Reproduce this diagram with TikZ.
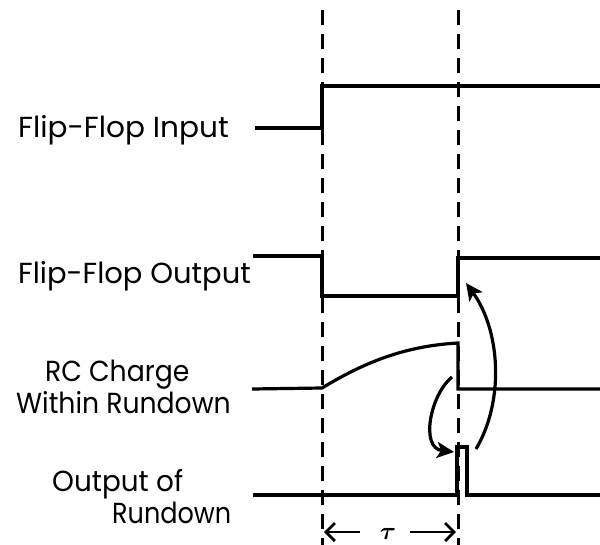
\documentclass[tikz,border=0pt]{standalone}
\usepackage{fontspec}
\setmainfont{Poppins}
\usetikzlibrary{arrows.meta}
\begin{document}
\begin{tikzpicture}[x=1pt,y=-1pt,
  sig/.style={line width=3.2pt, line join=miter},
  guide/.style={line width=3pt, dash pattern=on 15pt off 9pt},
  lbl/.style={font=\fontsize{29}{34}\selectfont, inner sep=0pt, anchor=base west},
  curv/.style={line width=3.2pt, -{Stealth[length=17pt,width=16pt,inset=4pt]}},
  dim/.style={line width=2.8pt}]
\useasboundingbox (0,0) rectangle (600,544);
% guides
\coordinate (g1t) at (322,10); \coordinate (g1b) at (322,546);
\coordinate (g2t) at (458,10); \coordinate (g2b) at (458,546);
\draw[guide] (g1t) -- (g1b);
\draw[guide] (g2t) -- (g2b);
% labels
\node[lbl, xscale=1.02] (l1) at (18,137) {Flip-Flop Input};
\node[lbl] (l2) at (18,283) {Flip-Flop Output};
\node[lbl, xscale=0.92] (l3a) at (45,381) {RC Charge};
\node[lbl, xscale=0.92] (l3b) at (16,413) {Within Rundown};
\node[lbl, xscale=0.96] (l4a) at (52,491) {Output of};
\node[lbl, xscale=0.88] (l4b) at (112,523) {Rundown};
% Flip-flop input
\draw[sig] (255,128) -- (322,128) -- (322,86) -- (600,86);
% Flip-flop output
\coordinate (ffrise) at (458,258);
\draw[sig] (253,256) -- (322,256) -- (322,296) -- (458,296) -- (ffrise) -- (600,258);
% RC charge
\coordinate (rcpeak) at (458,343);
\draw[sig] (252,389) -- (322,388) .. controls (365,362) and (405,346) .. (rcpeak) -- (458,389) -- (600,389);
% Output of rundown
\coordinate (pl) at (457,447); \coordinate (pr) at (467,447);
\draw[sig] (253,495) -- (457,495) -- (pl) -- (pr) -- (467,495) -- (600,495);
% curved arrows
\coordinate (a1s) at (476,449); \coordinate (a1e) at (466,283);
\draw[curv] (a1s) .. controls (505,400) and (500,330) .. (a1e);
\coordinate (a2s) at (452,377); \coordinate (a2e) at (454,452);
\draw[curv] (a2s) .. controls (430,395) and (420,448) .. (a2e);
% tau dimension
\node[font=\fontsize{34}{36}\selectfont\boldmath, inner sep=0pt] (tau) at (388,534) {$\tau$};
\coordinate (d1) at (324,532); \coordinate (d2) at (456,532);
\draw[dim, -{Straight Barb[length=9pt,width=18pt]}] (360,532) -- (d1);
\draw[dim, -{Straight Barb[length=9pt,width=18pt]}] (410,532) -- (d2);
\end{tikzpicture}
\end{document}
